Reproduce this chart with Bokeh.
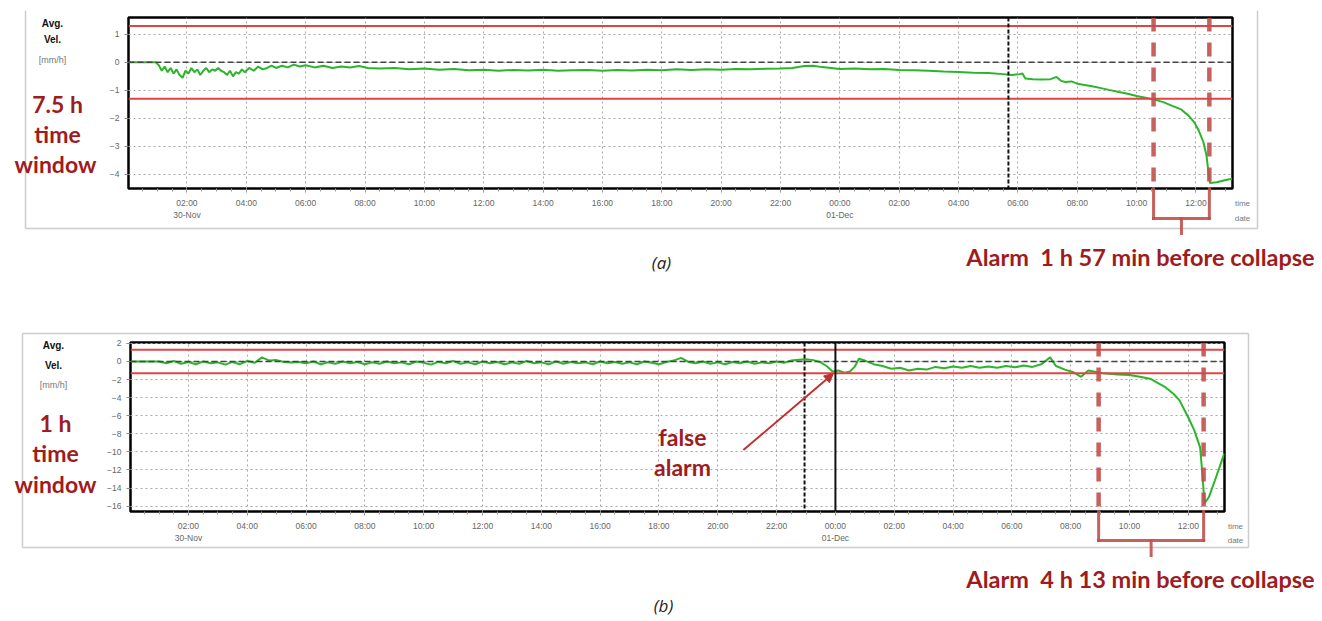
import calendar
from bokeh.plotting import figure
from bokeh.layouts import column
from bokeh.models import Range1d, FixedTicker, Span, Label, Arrow, NormalHead, Plot
from bokeh.embed import file_html
from bokeh.resources import INLINE

# ---------------- data (hours counted from 30-Nov 00:00) ----------------
X_START_H = 0.03
X_END_H = 37.23
TICK_HOURS = [2, 4, 6, 8, 10, 12, 14, 16, 18, 20, 22, 24, 26, 28, 30, 32, 34, 36]
TICK_LABELS = ["02:00\n30-Nov", "04:00", "06:00", "08:00", "10:00", "12:00", "14:00",
               "16:00", "18:00", "20:00", "22:00", "00:00\n01-Dec", "02:00", "04:00",
               "06:00", "08:00", "10:00", "12:00"]
MINOR_HOURS = [0.5 * k for k in range(1, 75)]

# panel (a): 7.5 h time window
A_YTICKS = [-4, -3, -2, -1, 0, 1]
A_YRANGE = (-4.5, 1.6)
A_THRESH = [1.3, -1.3]
A_BLACK_DASHED = [29.68]
A_ALARM = [34.57, 36.45]
A_T = [0.03, 0.5, 0.95, 1.05, 1.15, 1.25, 1.35, 1.45, 1.55, 1.65, 1.75, 1.85, 1.95, 2.05,
       2.15, 2.25, 2.35, 2.45, 2.55, 2.65, 2.75, 2.85, 2.95, 3.05, 3.15, 3.25, 3.35, 3.45,
       3.55, 3.65, 3.75, 3.85, 3.95, 4.1, 4.25, 4.4, 4.55, 4.7, 4.85, 5.0, 5.2, 5.4, 5.6,
       5.8, 6.0, 6.3, 6.6, 6.9, 7.2, 7.5, 7.8, 8.1, 8.5, 9.0, 9.5, 10.0, 10.5, 11.0, 11.5,
       12.0, 12.5, 13.0, 13.5, 14.0, 14.5, 15.0, 15.5, 16.0, 16.5, 17.0, 17.5, 18.0, 18.5,
       19.0, 19.5, 20.0, 20.5, 21.0, 21.5, 22.0, 22.4, 22.8, 23.1, 23.4, 23.7, 24.0, 24.5,
       25.0, 25.5, 26.0, 26.5, 27.0, 27.5, 28.0, 28.5, 29.0, 29.5, 29.8, 30.05, 30.15,
       30.25, 30.5, 30.8, 31.1, 31.3, 31.45, 31.6, 31.8, 32.0, 32.2, 32.5, 32.8, 33.1,
       33.4, 33.7, 34.0, 34.3, 34.6, 34.9, 35.2, 35.5, 35.75, 35.95, 36.1, 36.25, 36.35,
       36.43, 36.47, 36.7, 37.0, 37.22]
A_V = [0.0, 0.0, 0.0, -0.1, -0.3, -0.15, -0.35, -0.2, -0.4, -0.25, -0.45, -0.55, -0.3, -0.4,
       -0.2, -0.35, -0.25, -0.45, -0.3, -0.2, -0.35, -0.25, -0.3, -0.2, -0.3, -0.35, -0.45,
       -0.3, -0.5, -0.35, -0.4, -0.25, -0.35, -0.2, -0.3, -0.15, -0.25, -0.2, -0.12, -0.2,
       -0.12, -0.18, -0.08, -0.15, -0.1, -0.18, -0.12, -0.2, -0.15, -0.18, -0.13, -0.2,
       -0.22, -0.2, -0.25, -0.22, -0.26, -0.24, -0.28, -0.26, -0.3, -0.27, -0.29, -0.26,
       -0.3, -0.28, -0.27, -0.3, -0.27, -0.29, -0.26, -0.28, -0.25, -0.27, -0.25, -0.26,
       -0.24, -0.25, -0.23, -0.22, -0.2, -0.13, -0.12, -0.17, -0.2, -0.24, -0.22, -0.25,
       -0.24, -0.27, -0.28, -0.3, -0.33, -0.34, -0.37, -0.38, -0.42, -0.45, -0.42, -0.4,
       -0.58, -0.6, -0.61, -0.6, -0.52, -0.66, -0.7, -0.68, -0.76, -0.8, -0.85, -0.92,
       -0.99, -1.06, -1.12, -1.2, -1.26, -1.33, -1.42, -1.55, -1.68, -1.9, -2.15, -2.45,
       -2.85, -3.3, -4.0, -4.3, -4.28, -4.2, -4.15]

# panel (b): 1 h time window
B_YTICKS = [-16, -14, -12, -10, -8, -6, -4, -2, 0, 2]
B_YRANGE = (-16.6, 2.1)
B_THRESH = [1.3, -1.3]
B_BLACK_DASHED = [22.95]
B_BLACK_SOLID = [24.0]
B_ALARM = [32.95, 36.52]
B_FALSE_ALARM = (23.93, -1.33)      # point the arrow indicates
B_T = [0.03, 0.6, 1.0, 1.25, 1.5, 1.75, 2.0, 2.25, 2.5, 2.75, 3.0, 3.25, 3.5, 3.75, 4.0,
       4.25, 4.5, 4.75, 5.0, 5.25, 5.5, 5.75, 6.0, 6.25, 6.5, 6.75, 7.0, 7.25, 7.5, 7.75,
       8.0, 8.25, 8.5, 8.75, 9.0, 9.25, 9.5, 9.75, 10.0, 10.25, 10.5, 10.75, 11.0, 11.25,
       11.5, 11.75, 12.0, 12.25, 12.5, 12.75, 13.0, 13.25, 13.5, 13.75, 14.0, 14.25, 14.5,
       14.75, 15.0, 15.25, 15.5, 15.75, 16.0, 16.25, 16.5, 16.75, 17.0, 17.25, 17.5, 17.75,
       18.0, 18.25, 18.5, 18.75, 19.0, 19.25, 19.5, 19.75, 20.0, 20.25, 20.5, 20.75, 21.0,
       21.25, 21.5, 21.75, 22.0, 22.25, 22.5, 22.75, 23.0, 23.25, 23.5, 23.7, 23.9, 24.1,
       24.3, 24.5, 24.65, 24.8, 25.0, 25.3, 25.6, 25.9, 26.2, 26.5, 26.8, 27.1, 27.4, 27.7,
       28.0, 28.3, 28.6, 28.9, 29.2, 29.5, 29.8, 30.1, 30.4, 30.7, 31.0, 31.3, 31.5, 31.8,
       32.1, 32.35, 32.6, 33.1, 33.6, 34.0, 34.35, 34.7, 35.2, 35.5, 35.7, 36.0, 36.2,
       36.4, 36.48, 36.55, 36.7, 36.9, 37.05, 37.22]
B_V = [0.0, 0.0, 0.0, -0.2, 0.05, -0.25, -0.05, -0.3, 0.0, -0.2, -0.1, -0.35, -0.05, -0.3,
       0.05, -0.15, 0.45, 0.1, 0.15, -0.05, -0.1, -0.05, -0.2, 0.0, -0.3, -0.1, -0.25, 0.0,
       -0.2, -0.05, -0.3, -0.1, -0.25, 0.0, -0.2, -0.1, -0.3, 0.0, -0.15, -0.35, -0.05,
       -0.2, 0.05, -0.25, -0.1, -0.3, 0.0, -0.2, -0.05, -0.3, -0.1, -0.25, 0.05, -0.2, -0.1,
       -0.3, 0.0, -0.25, -0.05, -0.2, -0.1, -0.3, 0.0, -0.2, -0.05, -0.25, -0.1, -0.3, 0.0,
       -0.15, -0.3, -0.05, 0.1, 0.4, -0.05, -0.2, 0.0, -0.25, -0.1, -0.3, -0.05, -0.2, 0.0,
       -0.25, -0.1, -0.2, 0.0, -0.15, 0.1, 0.2, 0.25, 0.15, -0.1, -0.5, -1.1, -1.0, -1.25,
       -1.1, -0.6, 0.3, 0.1, -0.3, -0.5, -0.8, -0.7, -1.0, -0.8, -0.9, -0.6, -0.75, -0.55,
       -0.7, -0.5, -0.7, -0.55, -0.7, -0.5, -0.65, -0.45, -0.6, -0.3, 0.45, -0.5, -0.9,
       -1.2, -1.7, -1.0, -1.3, -1.45, -1.5, -1.7, -1.9, -2.8, -3.6, -4.3, -6.2, -7.6, -9.5,
       -12.5, -15.7, -15.0, -13.2, -11.8, -10.2]

# ---------------- helpers ----------------
BASE_MS = calendar.timegm((2013, 11, 30, 0, 0, 0)) * 1000


def ms(h):
    return int(round(BASE_MS + h * 3600000))


DARK_RED = "#9e1c20"
BRICK = "#c0504d"
THRESH_RED = "#e04444"
GREEN = "#2bb52b"
FONT = "Liberation Sans"
BIG_FONT = "Lato"
W = 1320
HAS_FA = "frame_align" in Plot.properties()

if HAS_FA:
    FA = dict(L=128, R=1232)
    FB = dict(L=130, R=1224)
else:
    FA = dict(L=129, R=1228)
    FB = dict(L=129, R=1228)


def make_panel(height, L, R, T, B, top, yr, yticks, t, v, thresh):
    p = figure(width=W, height=height, x_axis_type="datetime",
               x_range=Range1d(ms(X_START_H), ms(X_END_H)), y_range=Range1d(*yr),
               output_backend="svg", toolbar_location=None,
               min_border_left=L, min_border_right=W - R,
               min_border_top=T - top, min_border_bottom=height - (B - top))
    if HAS_FA:
        p.frame_align = False
    p.outline_line_color = "black"
    p.outline_line_width = 2.5

    xt = FixedTicker(ticks=[ms(h) for h in TICK_HOURS], minor_ticks=[ms(h) for h in MINOR_HOURS])
    p.xaxis.ticker = xt
    p.xgrid.ticker = xt
    p.xaxis.major_label_overrides = {ms(h): lab for h, lab in zip(TICK_HOURS, TICK_LABELS)}
    yt = FixedTicker(ticks=yticks)
    p.yaxis.ticker = yt
    p.ygrid.ticker = yt

    for ax in (p.xaxis[0], p.yaxis[0]):
        ax.axis_line_color = None
        ax.major_tick_line_color = "#8a8a8a"
        ax.major_tick_in = 0
        ax.major_tick_out = 4
        ax.minor_tick_line_color = "#9a9a9a"
        ax.minor_tick_in = 0
        ax.minor_tick_out = 3
        ax.major_label_text_font = FONT
        ax.major_label_text_font_size = "8.5px"
        ax.major_label_text_color = "#666666"
        ax.major_label_standoff = 5
    p.yaxis.minor_tick_line_color = None

    for g in (p.xgrid[0], p.ygrid[0]):
        g.grid_line_color = "#a8a8a8"
        g.grid_line_dash = "2 3"
        g.grid_line_width = 1

    p.add_layout(Span(location=0, dimension="width", line_color="#444444",
                      line_dash="6 3", line_width=1.5))
    for th in thresh:
        p.add_layout(Span(location=th, dimension="width", line_color=THRESH_RED, line_width=2))
    p.line(x=[ms(h) for h in t], y=v, line_color=GREEN, line_width=2)
    return p


def make_deco(height, top, L, R, B, alarms, bracket_y, tick_y, border, left_x, left_ys,
              window_texts, win_pos, td_x, td_ys, alarm_text, alarm_xy, tag, tag_xy):
    # transparent overlay for everything drawn outside the plot frame (page pixel coords)
    mspp = (ms(X_END_H) - ms(X_START_H)) / (R - L)
    t0 = ms(X_START_H) - L * mspp
    d = figure(width=W, height=height, x_range=Range1d(0, W), y_range=Range1d(top + height, top),
               x_axis_location=None, y_axis_location=None, min_border=0,
               output_backend="svg", toolbar_location=None,
               styles={"position": "absolute", "left": "0px", "top": f"{top}px", "z-index": "5"})
    if HAS_FA:
        d.frame_align = False
    d.extra_x_ranges = {"time": Range1d(t0, t0 + W * mspp)}
    d.grid.visible = False
    d.outline_line_color = None
    d.background_fill_color = None
    d.border_fill_color = None

    bl, bt, br, bb, top_line = border
    xs0 = [bl, br, bl] + ([bl] if top_line else [])
    ys0 = [bt, bt, bb] + ([bt] if top_line else [])
    xs1 = [bl, br, br] + ([br] if top_line else [])
    ys1 = [bb, bb, bb] + ([bt] if top_line else [])
    d.segment(x0=xs0, y0=ys0, x1=xs1, y1=ys1, line_color="#cccccc", line_width=1.5)

    a0, a1 = ms(alarms[0]), ms(alarms[1])
    mid = (a0 + a1) / 2
    d.segment(x0=[a0, a1, a0, mid], y0=[B, B, bracket_y, bracket_y],
              x1=[a0, a1, a1, mid], y1=[bracket_y, bracket_y, bracket_y, tick_y],
              x_range_name="time", line_color=BRICK, line_width=3, line_alpha=0.9,
              line_cap="square")

    lab = dict(text_align="center", text_baseline="middle")
    d.add_layout(Label(x=left_x, y=left_ys[0], text="Avg.", text_font=FONT,
                       text_font_size="10px", text_font_style="bold", text_color="#111111", **lab))
    d.add_layout(Label(x=left_x, y=left_ys[1], text="Vel.", text_font=FONT,
                       text_font_size="10px", text_font_style="bold", text_color="#111111", **lab))
    d.add_layout(Label(x=left_x, y=left_ys[2], text="[mm/h]", text_font=FONT,
                       text_font_size="9px", text_color="#777777", **lab))
    for txt, (wx, wy) in zip(window_texts, win_pos):
        d.add_layout(Label(x=wx, y=wy, text=txt, text_font=BIG_FONT, text_font_size="23px",
                           text_font_style="bold", text_color=DARK_RED, **lab))
    for txt, ty in zip(["time", "date"], td_ys):
        d.add_layout(Label(x=td_x, y=ty, text=txt, text_font=FONT, text_font_size="8px",
                           text_color="#777777", **lab))
    d.add_layout(Label(x=alarm_xy[0], y=alarm_xy[1], text=alarm_text, text_font=BIG_FONT,
                       text_font_size="23.5px", text_font_style="bold", text_color=DARK_RED, **lab))
    d.add_layout(Label(x=tag_xy[0], y=tag_xy[1], text=tag, text_font="Open Sans",
                       text_font_size="17px", text_font_style="italic", text_color="#222222", **lab))
    return d


# ---------------- panel (a) ----------------
TOPA, HA, TA, BA = 0, 300, 17, 188
pA = make_panel(HA, FA["L"], FA["R"], TA, BA, TOPA, A_YRANGE, A_YTICKS, A_T, A_V, A_THRESH)
for dd in A_BLACK_DASHED:
    pA.add_layout(Span(location=ms(dd), dimension="height", line_color="#111111",
                       line_width=2, line_dash="4 2"))
for a in A_ALARM:
    pA.add_layout(Span(location=ms(a), dimension="height", line_color=BRICK,
                       line_width=4.5, line_dash="14 11", line_alpha=0.9))
dA = make_deco(HA, TOPA, FA["L"], FA["R"], BA, A_ALARM, 218, 233, (25, 10, 1257, 228, False),
               52, (23, 39, 59), ["7.5 h", "time", "window"], [(57, 103), (57, 133), (55, 163)],
               1242, (203, 218), "Alarm\u00a0 1 h 57 min before collapse", (1140, 256),
               "(a)", (661, 262))

# ---------------- panel (b) ----------------
TOPB, HB, TB, BB = 300, 318, 342, 511
pB = make_panel(HB, FB["L"], FB["R"], TB, BB, TOPB, B_YRANGE, B_YTICKS, B_T, B_V, B_THRESH)
for dd in B_BLACK_DASHED:
    pB.add_layout(Span(location=ms(dd), dimension="height", line_color="#111111",
                       line_width=2, line_dash="4 2"))
for dd in B_BLACK_SOLID:
    pB.add_layout(Span(location=ms(dd), dimension="height", line_color="#111111", line_width=2))
for a in B_ALARM:
    pB.add_layout(Span(location=ms(a), dimension="height", line_color=BRICK,
                       line_width=4.5, line_dash="14 11", line_alpha=0.9))
fl = dict(text_align="center", text_baseline="middle", text_font=BIG_FONT,
          text_font_size="23px", text_font_style="bold", text_color=DARK_RED)
# false alarm note, placed in data coordinates of panel (b)
pB.add_layout(Label(x=ms(18.8), y=-8.4, text="false", **fl))
pB.add_layout(Label(x=ms(18.8), y=-11.7, text="alarm", **fl))
pB.add_layout(Arrow(x_start=ms(20.87), y_start=-9.8,
                    x_end=ms(B_FALSE_ALARM[0]), y_end=B_FALSE_ALARM[1],
                    line_color="#c03030", line_width=2,
                    end=NormalHead(size=9, fill_color="#c03030", line_color="#c03030")))
dB = make_deco(HB, TOPB, FB["L"], FB["R"], BB, B_ALARM, 540, 555, (22, 333, 1248, 547, True),
               53, (345, 365, 384), ["1 h", "time", "window"], [(55, 422), (55, 452), (55, 483)],
               1235, (526, 540), "Alarm\u00a0 4 h 13 min before collapse", (1140, 578),
               "(b)", (663, 605))

layout = column(pA, pB, dA, dB, spacing=0)
open("out.html", "w").write(file_html(layout, INLINE))
